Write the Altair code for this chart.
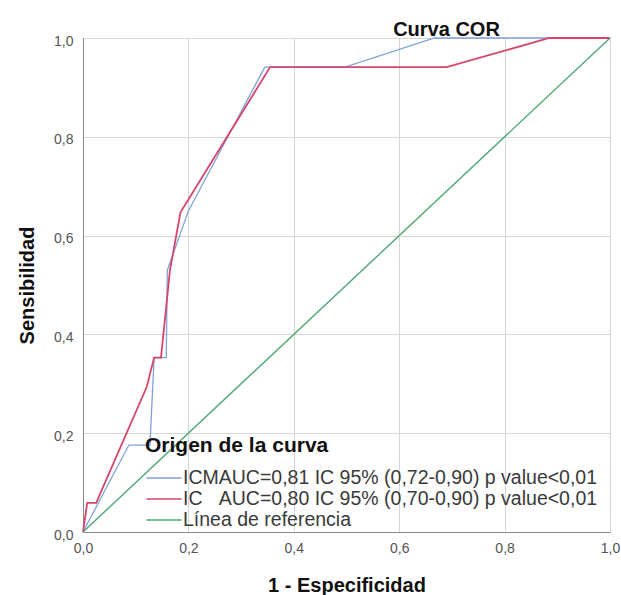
import altair as alt
import pandas as pd

# ROC curve points (x = 1 - Especificidad, y = Sensibilidad)
icm_fpr = [0.0, 0.087, 0.127, 0.135, 0.158, 0.160, 0.200, 0.345, 0.497, 0.667, 1.0]
icm_sens = [0.0, 0.176, 0.176, 0.353, 0.353, 0.530, 0.650, 0.941, 0.941, 1.0, 1.0]

ic_fpr = [0.0, 0.008, 0.025, 0.121, 0.135, 0.148, 0.165, 0.185, 0.355, 0.690, 0.885, 1.0]
ic_sens = [0.0, 0.059, 0.059, 0.294, 0.353, 0.353, 0.530, 0.647, 0.941, 0.941, 1.0, 1.0]

ref_fpr = [0.0, 1.0]
ref_sens = [0.0, 1.0]

series_names = [
    "ICMAUC=0,81 IC 95% (0,72-0,90) p value<0,01",
    "IC\u00a0\u00a0\u00a0AUC=0,80 IC 95% (0,70-0,90) p value<0,01",
    "Línea de referencia",
]
series_colors = ["#7fa3d8", "#d6456b", "#4ea873"]
tick_values = [0.0, 0.2, 0.4, 0.6, 0.8, 1.0]

rows = []
for name, xs, ys in [
    (series_names[0], icm_fpr, icm_sens),
    (series_names[1], ic_fpr, ic_sens),
    (series_names[2], ref_fpr, ref_sens),
]:
    for i, (x, y) in enumerate(zip(xs, ys)):
        rows.append({"serie": name, "fpr": x, "sens": y, "idx": i})
df = pd.DataFrame(rows)

FONT = "Liberation Sans"
label_expr = "replace(format(datum.value, '.1f'), '.', ',')"

x_enc = alt.X(
    "fpr:Q",
    scale=alt.Scale(domain=[0, 1], nice=False),
    axis=alt.Axis(
        values=tick_values,
        labelExpr=label_expr,
        title="1 - Especificidad",
        titleFont=FONT,
        titleFontSize=20,
        titleFontWeight="bold",
        titleColor="#111111",
        titleX=263.5,
        titleY=59,
        titleAlign="center",
        titleBaseline="alphabetic",
        labelFont=FONT,
        labelFontSize=14,
        labelColor="#555555",
        labelPadding=9,
        ticks=False,
        domainColor="#8a8a8a",
        gridColor="#d6d6d6",
        labelFlush=False,
    ),
)
y_enc = alt.Y(
    "sens:Q",
    scale=alt.Scale(domain=[0, 1], nice=False),
    axis=alt.Axis(
        values=tick_values,
        labelExpr=label_expr,
        title="Sensibilidad",
        titleFont=FONT,
        titleFontSize=20,
        titleFontWeight="bold",
        titleColor="#111111",
        titleAngle=-90,
        titleX=-50,
        titleY=247,
        titleAlign="center",
        titleBaseline="alphabetic",
        labelFont=FONT,
        labelFontSize=14,
        labelColor="#555555",
        labelPadding=10,
        labelOffset=3,
        ticks=False,
        domainColor="#8a8a8a",
        gridColor="#d6d6d6",
        labelFlush=False,
    ),
)
color_enc = alt.Color(
    "serie:N",
    scale=alt.Scale(domain=series_names, range=series_colors),
    sort=series_names,
    legend=alt.Legend(
        orient="none",
        legendX=62,
        legendY=397,
        title="Origen de la curva",
        titleFont=FONT,
        titleFontSize=21,
        titleFontWeight="bold",
        titleColor="#111111",
        titlePadding=11,
        titleLimit=400,
        labelFont=FONT,
        labelFontSize=19.5,
        labelColor="#3a3a3a",
        labelLimit=600,
        labelOffset=8,
        symbolType="M-1.75,0H1.75",
        symbolSize=400,
        symbolStrokeWidth=1.6,
        symbolOffset=8,
        rowPadding=0,
        padding=0,
    ),
)

base = alt.Chart(df)
layers = []
for name, sw in zip(series_names, [1.3, 1.8, 1.4]):
    layers.append(
        base.transform_filter(alt.datum.serie == name)
        .mark_line(strokeWidth=sw)
        .encode(x=x_enc, y=y_enc, color=color_enc, order=alt.Order("idx:Q"))
    )

chart = (
    alt.layer(*layers)
    .properties(
        width=527,
        height=494,
        padding={"left": 83, "top": 38, "right": 11, "bottom": 63},
        autosize=alt.AutoSizeParams(type="none"),
        title=alt.TitleParams(
            "Curva COR",
            font=FONT,
            fontSize=20,
            fontWeight="bold",
            color="#111111",
            anchor="middle",
            dx=100,
            dy=32,
            offset=6,
            baseline="bottom",
        ),
    )
    .configure_view(stroke=None)
    .configure(background="white")
)

chart.save("out.html", embed_options={"renderer": "svg", "actions": False})
